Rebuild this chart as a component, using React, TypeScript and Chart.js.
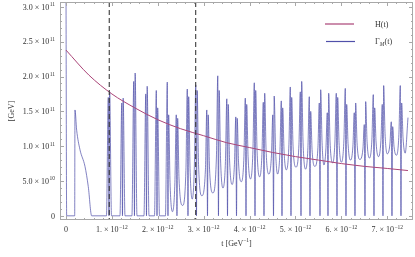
import React, { useEffect, useRef } from 'react';
import { Chart, registerables } from 'chart.js';

Chart.register(...registerables);

// ---- data (t in units of 1e-12 GeV^-1, values in units of 1e11 GeV) ----
const hT = [0, 0.5, 1.0, 1.5, 2.0, 2.5, 3.0, 3.5, 4.0, 4.5, 5.0, 5.5, 6.0, 6.5, 7.0, 7.45];
const hV = [2.38, 2.02, 1.75, 1.55, 1.38, 1.25, 1.15, 1.05, 0.98, 0.91, 0.85, 0.80, 0.75, 0.71, 0.68, 0.65];

// opening part of Gamma_M (before the regular spikes)
const gStartT = [0, 0.015, 0.19, 0.196, 0.233, 0.305, 0.414, 0.486, 0.56];
const gStartV = [3.5, 0, 0, 1.52, 1.23, 0.95, 0.71, 0.42, 0];

// regular spikes: time where the curve touches zero, and the peaks on either side
const spikeT = [0.937, 1.231, 1.492, 1.754, 1.983, 2.222, 2.418, 2.658, 2.843, 3.083, 3.322, 3.519, 3.715, 3.922, 4.118, 4.314, 4.521, 4.706, 4.902, 5.120, 5.316, 5.534, 5.708, 5.904, 6.100, 6.296, 6.514, 6.710, 6.906, 7.102, 7.298];
const peakBefore = [1.70, 1.62, 1.93, 1.75, 1.80, 1.92, 1.45, 1.82, 1.88, 1.52, 2.01, 1.68, 1.42, 1.69, 1.91, 1.63, 1.45, 1.65, 1.85, 1.78, 1.71, 1.62, 1.48, 1.76, 1.83, 1.48, 1.31, 1.74, 1.60, 1.35, 1.87];
const peakAfter = [1.78, 1.69, 2.05, 1.86, 1.55, 1.45, 1.40, 1.71, 1.80, 1.45, 1.80, 1.60, 1.40, 1.60, 1.80, 1.76, 1.72, 1.55, 1.70, 1.93, 1.50, 1.81, 1.76, 1.70, 1.60, 1.62, 1.64, 1.55, 1.87, 1.28, 1.62];
// trough after each spike (null = curve stays flat at zero)
const troughT: (number | null)[] = [null, null, null, null, null, 2.32, 2.54, 2.75, 2.96, 3.20, 3.42, 3.62, 3.82, 4.02, 4.22, 4.42, 4.61, 4.80, 5.01, 5.22, 5.42, 5.62, 5.81, 6.00, 6.20, 6.40, 6.61, 6.81, 7.00, 7.20, 7.39];
const troughV = [0, 0, 0, 0, 0, 0.06, 0.15, 0.24, 0.29, 0.33, 0.40, 0.45, 0.49, 0.53, 0.56, 0.60, 0.60, 0.66, 0.70, 0.67, 0.71, 0.73, 0.76, 0.77, 0.80, 0.81, 0.83, 0.85, 0.89, 0.87, 0.90];
const shoulderAfter: (number | null)[] = [null, null, null, null, null, 0.48, 0.53, 0.68, 0.74, 0.67, 0.82, 0.80, 0.76, 0.85, 0.93, 0.95, 0.94, 0.93, 1.00, 1.05, 0.95, 1.05, 1.06, 1.05, 1.04, 1.05, 1.07, 1.06, 1.18, 0.99, 1.12];
const shoulderBefore: (number | null)[] = [null, null, null, null, null, 0.48, 0.65, 0.73, 0.66, 0.83, 0.78, 0.74, 0.85, 0.94, 0.88, 0.86, 0.92, 1.02, 1.02, 0.98, 0.98, 0.96, 1.06, 1.09, 1.00, 0.96, 1.10, 1.08, 1.03, 1.17, null];
const gEndT = 7.451;
const gEndV = 1.41;

const dashedT = [0.943, 2.826];

const xTickVals = [0, 1, 2, 3, 4, 5, 6, 7];
const xTickMant = ['0', '1. \u00d7 10', '2. \u00d7 10', '3. \u00d7 10', '4. \u00d7 10', '5. \u00d7 10', '6. \u00d7 10', '7. \u00d7 10'];
const xTickExp = ['', '\u221212', '\u221212', '\u221212', '\u221212', '\u221212', '\u221212', '\u221212'];
const yTickVals = [0, 0.5, 1.0, 1.5, 2.0, 2.5, 3.0];
const yTickMant = ['0', '5.0 \u00d7 10', '1.0 \u00d7 10', '1.5 \u00d7 10', '2.0 \u00d7 10', '2.5 \u00d7 10', '3.0 \u00d7 10'];
const yTickExp = ['', '10', '11', '11', '11', '11', '11'];

// ---- styling ----
const X_MIN = -0.13, X_MAX = 7.56, Y_MIN = -0.06, Y_MAX = 3.07;
const TIP = 0.015, SHOULDER = 0.045, BASE = 0.055;
const H_COLOR = '#aa4477';
const G_COLOR = 'rgba(70, 70, 165, 0.85)';
const G_LEGEND = '#5050aa';
const FRAME = '#a8a8a8';
const TEXT = '#333333';
const SERIF = '"Liberation Serif", "DejaVu Serif", serif';

function buildGamma() {
  const pts: { x: number; y: number }[] = [];
  gStartT.forEach((t, i) => pts.push({ x: t, y: gStartV[i] }));
  for (let i = 0; i < spikeT.length; i++) {
    const tz = spikeT[i];
    if (i === 0 || troughT[i - 1] === null) pts.push({ x: tz - BASE, y: 0 });
    else pts.push({ x: tz - SHOULDER, y: shoulderBefore[i - 1] as number });
    pts.push({ x: tz - TIP, y: peakBefore[i] });
    pts.push({ x: tz, y: 0 });
    pts.push({ x: tz + TIP, y: peakAfter[i] });
    if (troughT[i] === null) pts.push({ x: tz + BASE, y: 0 });
    else {
      pts.push({ x: tz + SHOULDER, y: shoulderAfter[i] as number });
      pts.push({ x: troughT[i] as number, y: troughV[i] });
    }
  }
  pts.push({ x: gEndT, y: gEndV });
  return pts;
}

function drawSci(ctx: CanvasRenderingContext2D, mant: string, exp: string, x: number, y: number, align: 'center' | 'right') {
  ctx.font = `8px ${SERIF}`;
  const w1 = ctx.measureText(mant).width;
  ctx.font = `5.5px ${SERIF}`;
  const w2 = exp ? ctx.measureText(exp).width + 0.5 : 0;
  const w = w1 + w2;
  const start = align === 'center' ? x - w / 2 : x - w;
  ctx.textAlign = 'left';
  ctx.textBaseline = 'alphabetic';
  ctx.font = `8px ${SERIF}`;
  ctx.fillText(mant, start, y + 2.8);
  if (exp) {
    ctx.font = `5.5px ${SERIF}`;
    ctx.fillText(exp, start + w1 + 0.5, y - 0.5);
  }
}

const framePlugin = {
  id: 'mmaFrame',
  afterDatasetsDraw(chart: any) {
    const ctx: CanvasRenderingContext2D = chart.ctx;
    const a = chart.chartArea;
    const xs = chart.scales.x;
    const ys = chart.scales.y;
    ctx.save();
    // dashed markers
    ctx.beginPath();
    ctx.rect(a.left, a.top, a.right - a.left, a.bottom - a.top);
    ctx.clip();
    ctx.strokeStyle = '#3a3a3a';
    ctx.lineWidth = 1.1;
    ctx.setLineDash([5, 3]);
    dashedT.forEach((t) => {
      const px = xs.getPixelForValue(t);
      ctx.beginPath();
      ctx.moveTo(px, a.top);
      ctx.lineTo(px, a.bottom);
      ctx.stroke();
    });
    ctx.restore();

    ctx.save();
    ctx.strokeStyle = FRAME;
    ctx.lineWidth = 1;
    ctx.strokeRect(a.left + 0.5, a.top + 0.5, a.right - a.left - 1, a.bottom - a.top - 1);
    // x ticks
    for (let k = 0; k <= 40; k++) {
      const v = k * 0.2;
      if (v > X_MAX) break;
      const px = Math.round(xs.getPixelForValue(v)) + 0.5;
      const len = k % 5 === 0 ? 4 : 2;
      ctx.beginPath();
      ctx.moveTo(px, a.bottom);
      ctx.lineTo(px, a.bottom - len);
      ctx.moveTo(px, a.top);
      ctx.lineTo(px, a.top + len);
      ctx.stroke();
    }
    for (let k = 0; k <= 30; k++) {
      const v = k * 0.1;
      const py = Math.round(ys.getPixelForValue(v)) + 0.5;
      const len = k % 5 === 0 ? 4 : 2;
      ctx.beginPath();
      ctx.moveTo(a.left, py);
      ctx.lineTo(a.left + len, py);
      ctx.moveTo(a.right, py);
      ctx.lineTo(a.right - len, py);
      ctx.stroke();
    }
    // tick labels
    ctx.fillStyle = TEXT;
    xTickVals.forEach((v, i) => {
      drawSci(ctx, xTickMant[i], xTickExp[i], xs.getPixelForValue(v), 229, 'center');
    });
    yTickVals.forEach((v, i) => {
      drawSci(ctx, yTickMant[i], yTickExp[i], 55, ys.getPixelForValue(v), 'right');
    });
    // axis titles
    ctx.font = `8px ${SERIF}`;
    ctx.textBaseline = 'middle';
    ctx.textAlign = 'left';
    const t1 = 't [GeV';
    const w1 = ctx.measureText(t1).width;
    ctx.font = `5.5px ${SERIF}`;
    const e1 = '\u22121';
    const we = ctx.measureText(e1).width;
    ctx.font = `8px ${SERIF}`;
    const w3 = ctx.measureText(']').width;
    const cx = (a.left + a.right) / 2;
    const sx = cx - (w1 + we + w3) / 2;
    ctx.fillText(t1, sx, 244);
    ctx.font = `5.5px ${SERIF}`;
    ctx.fillText(e1, sx + w1, 240.5);
    ctx.font = `8px ${SERIF}`;
    ctx.fillText(']', sx + w1 + we, 244);

    ctx.save();
    ctx.translate(12, (a.top + a.bottom) / 2);
    ctx.rotate(-Math.PI / 2);
    ctx.textAlign = 'center';
    ctx.fillText('[GeV]', 0, 0);
    ctx.restore();

    // legend
    ctx.lineWidth = 1.2;
    ctx.strokeStyle = H_COLOR;
    ctx.beginPath();
    ctx.moveTo(325, 24);
    ctx.lineTo(354, 24);
    ctx.stroke();
    ctx.strokeStyle = G_LEGEND;
    ctx.beginPath();
    ctx.moveTo(326, 41.5);
    ctx.lineTo(355, 41.5);
    ctx.stroke();
    ctx.fillStyle = TEXT;
    ctx.font = `8px ${SERIF}`;
    ctx.textBaseline = 'middle';
    ctx.fillText('H(t)', 375, 25);
    ctx.fillText('\u0393', 375, 42);
    const wg = ctx.measureText('\u0393').width;
    ctx.font = `italic 5.5px ${SERIF}`;
    ctx.fillText('M', 375 + wg, 44.5);
    const wm = ctx.measureText('M').width;
    ctx.font = `8px ${SERIF}`;
    ctx.fillText('(t)', 375 + wg + wm + 0.3, 42);
    ctx.restore();
  },
};

export default function App() {
  const ref = useRef<HTMLCanvasElement>(null);
  useEffect(() => {
    document.body.style.margin = '0';
    const canvas = ref.current;
    if (!canvas) return;
    const hPts = hT.map((t, i) => ({ x: t, y: hV[i] }));
    const chart = new Chart(canvas, {
      type: 'line',
      data: {
        datasets: [
          {
            label: 'H(t)',
            data: hPts,
            borderColor: H_COLOR,
            borderWidth: 1,
            pointRadius: 0,
            cubicInterpolationMode: 'monotone',
            fill: false,
          },
          {
            label: '\u0393M(t)',
            data: buildGamma(),
            borderColor: G_COLOR,
            borderWidth: 0.8,
            pointRadius: 0,
            cubicInterpolationMode: 'monotone',
            fill: false,
          },
        ],
      },
      options: {
        animation: false,
        responsive: false,
        devicePixelRatio: 1,
        events: [],
        layout: { padding: { left: 60, right: 2, top: 2, bottom: 37 } },
        plugins: { legend: { display: false }, tooltip: { enabled: false } },
        scales: {
          x: { type: 'linear', min: X_MIN, max: X_MAX, display: false },
          y: { type: 'linear', min: Y_MIN, max: Y_MAX, display: false },
        },
      },
      plugins: [framePlugin],
    } as any);
    return () => chart.destroy();
  }, []);
  return (
    <div style={{ position: 'absolute', left: 0, top: 0, width: 415, height: 257, background: '#fff' }}>
      <canvas ref={ref} width={415} height={257} style={{ display: 'block' }} />
    </div>
  );
}
